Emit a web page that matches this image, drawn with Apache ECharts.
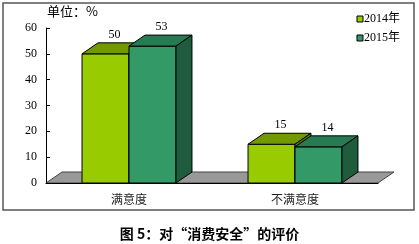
<!DOCTYPE html>
<html><head><meta charset="utf-8">
<script src="https://cdn.jsdelivr.net/npm/echarts@6/dist/echarts.min.js"></script>
<style>html,body{margin:0;padding:0;background:#fff}#c{width:419px;height:244px}</style>
</head><body><div id="c"></div>
<script>
const categories = ['满意度', '不满意度'];
const seriesNames = ['2014年', '2015年'];
const values2014 = [50, 15];
const values2015 = [53, 14];
const yMin = 0, yMax = 60, yInterval = 10;
const unitText = '单位：%';
const titleText = '图 5：对“消费安全”的评价';

const DX = 16, DY = -11;
const palette = [
  {front: '#99cc00', top: '#729900', side: '#5a7a00'},
  {front: '#339966', top: '#287a52', side: '#1f5c3e'}
];

function makeBar(idx) {
  return function (params, api) {
    const cat = api.value(0), val = api.value(1);
    const base = api.coord([cat, 0]);
    const top = api.coord([cat, val]);
    const band = api.size([1, 0])[0];
    const w = band * 0.283;
    const x0 = base[0] + (idx === 0 ? -w : 0);
    const yb = base[1], yt = top[1];
    const c = palette[idx];
    const st = {stroke: '#000', lineWidth: 1};
    return {
      type: 'group',
      children: [
        {type: 'rect', shape: {x: x0, y: yt, width: w, height: yb - yt}, style: Object.assign({fill: c.front}, st)},
        {type: 'polygon', shape: {points: [[x0, yt], [x0 + DX, yt + DY], [x0 + w + DX, yt + DY], [x0 + w, yt]]}, style: Object.assign({fill: c.top}, st)},
        {type: 'polygon', shape: {points: [[x0 + w, yt], [x0 + w + DX, yt + DY], [x0 + w + DX, yb + DY], [x0 + w, yb]]}, style: Object.assign({fill: c.side}, st)},
        {type: 'text', style: {text: String(val), x: x0 + w / 2 + 9, y: yt + DY - 8, align: 'center', verticalAlign: 'middle', font: '12px "Liberation Serif"', fill: '#000'}}
      ]
    };
  };
}

function floorItem(params, api) {
  const cs = params.coordSys;
  const x = cs.x, yb = cs.y + cs.height, w = cs.width;
  return {
    type: 'polygon',
    shape: {points: [[x, yb], [x + DX, yb + DY], [x + w + DX, yb + DY], [x + w, yb]]},
    style: {fill: '#999999', stroke: '#444', lineWidth: 1}
  };
}

const chart = echarts.init(document.getElementById('c'));
chart.setOption({
  animation: false,
  backgroundColor: '#fff',
  grid: {left: 46, right: 41, top: 28, bottom: 61},
  legend: {
    orient: 'vertical', right: 14, top: 8, itemWidth: 6, itemHeight: 6, itemGap: 7,
    icon: 'rect', data: seriesNames,
    itemStyle: {borderColor: '#000', borderWidth: 1},
    textStyle: {fontFamily: '"Liberation Serif", "Noto Sans CJK SC"', fontSize: 12, color: '#000', padding: [0, 0, 0, -4]}
  },
  xAxis: {
    type: 'category', data: categories, z: 5,
    axisLine: {lineStyle: {color: '#000', width: 1}},
    axisTick: {inside: true, length: 3, lineStyle: {color: '#000'}},
    axisLabel: {margin: 10, fontSize: 12, color: '#222', fontFamily: '"Noto Sans CJK SC"'}
  },
  yAxis: {
    type: 'value', min: yMin, max: yMax, interval: yInterval, z: 5,
    axisLine: {show: true, lineStyle: {color: '#000', width: 1}},
    axisTick: {show: true, inside: true, length: 4, lineStyle: {color: '#000'}},
    splitLine: {show: false},
    axisLabel: {margin: 9, fontSize: 12, color: '#000', fontFamily: '"Liberation Serif"'}
  },
  graphic: [
    {type: 'rect', shape: {x: 3, y: 3, width: 411, height: 207}, style: {fill: 'none', stroke: '#555', lineWidth: 1.5}, z: 0},
    {type: 'text', left: 47, top: 5, style: {text: unitText, font: '13px "Noto Sans CJK SC"', fill: '#000'}},
    {type: 'text', left: 'center', top: 227, style: {text: titleText, font: 'bold 14px "Noto Sans CJK SC"', fill: '#000'}}
  ],
  series: [
    {type: 'custom', name: 'floor', z: 1, clip: false, renderItem: floorItem, data: [[0, 0]], silent: true},
    {type: 'custom', name: seriesNames[0], z: 2, clip: false, renderItem: makeBar(0),
      itemStyle: {color: palette[0].front, borderColor: '#000', borderWidth: 1},
      data: categories.map((c, i) => [i, values2014[i]])},
    {type: 'custom', name: seriesNames[1], z: 3, clip: false, renderItem: makeBar(1),
      itemStyle: {color: palette[1].front, borderColor: '#000', borderWidth: 1},
      data: categories.map((c, i) => [i, values2015[i]])}
  ]
});
</script></body></html>
